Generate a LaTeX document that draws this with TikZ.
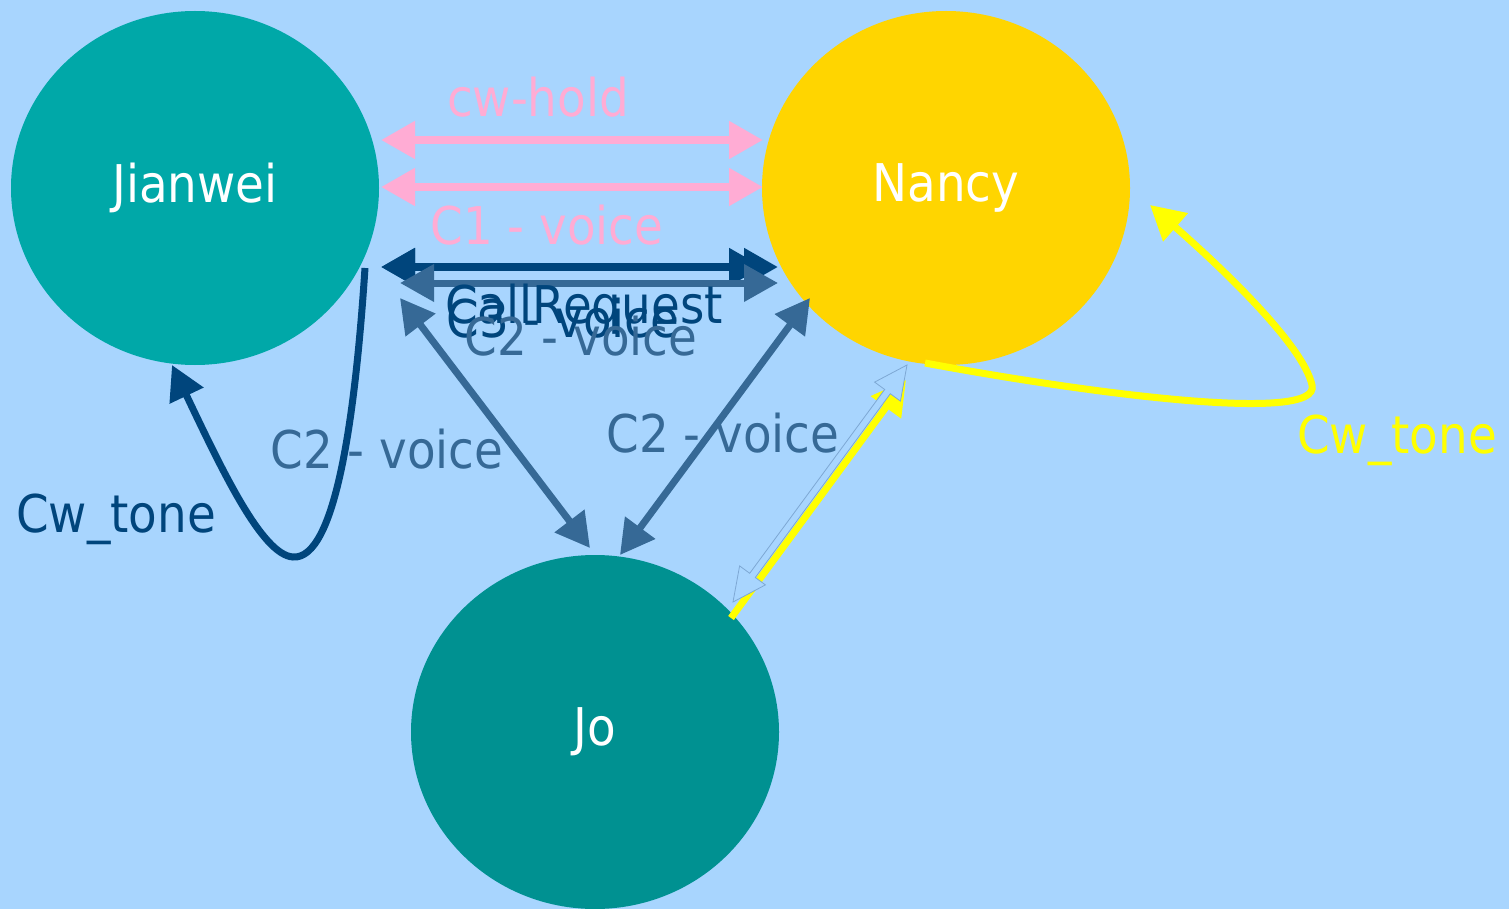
\documentclass[tikz,border=0pt]{standalone}
\usepackage{fontspec}
\setmainfont{DejaVu Sans}[FakeStretch=0.9]
\usetikzlibrary{arrows.meta,shapes.geometric}

\definecolor{bgc}{HTML}{A8D5FE}
\definecolor{jianc}{HTML}{00A8A8}
\definecolor{nancyc}{HTML}{FFD500}
\definecolor{joc}{HTML}{009191}
\definecolor{pinkc}{HTML}{FFACD4}
\definecolor{darkc}{HTML}{00457C}
\definecolor{steelc}{HTML}{366996}
\definecolor{yelc}{HTML}{FFFF00}
\definecolor{hollowc}{HTML}{7EA8D4}

\tikzset{
  person/.style={ellipse, minimum width=368pt, minimum height=354pt,
    inner sep=0pt, text=white},
  tipbig/.tip={Triangle[length=34pt,width=36pt]},
  pinkline/.style={draw=pinkc, line width=8pt, tipbig-tipbig},
  darkline/.style={draw=darkc, line width=8pt, tipbig-tipbig},
  steelline/.style={draw=steelc, line width=7pt, tipbig-tipbig},
  loopline/.style={line width=7pt, -tipbig},
  lbl/.style={anchor=base, inner sep=0pt}
}

\begin{document}
\begin{tikzpicture}[x=1pt, y=-1pt, font=\fontsize{52}{60}\selectfont]
\fill[bgc] (0,0) rectangle (1509,909);
\useasboundingbox (0,0) rectangle (1509,909);

% people
\node[person, fill=jianc]  (jian)  at (195,188) {Jianwei};
\node[person, fill=nancyc] (nancy) at (946,188) {Nancy};
\node[person, fill=joc]    (jo)    at (595,732) {Jo};

% end points on the borders
\coordinate (jA) at (381,140); \coordinate (nA) at (763,140);
\coordinate (jB) at (381,187); \coordinate (nB) at (763,187);
\coordinate (jC) at (381,267); \coordinate (nC) at (778,267);
\coordinate (nD) at (763,267);
\coordinate (jE) at (400,283); \coordinate (nE) at (778,283);
\coordinate (jF) at (400,298); \coordinate (oF) at (590,548);
\coordinate (nG) at (810,298); \coordinate (oG) at (620,555);
\coordinate (jL) at (365,268); \coordinate (jT) at (172,365);
\coordinate (nL) at (925,363); \coordinate (nT) at (1150,205);
\coordinate (oY) at (731,618); \coordinate (nY) at (906,380);

% Jianwei <-> Nancy
\draw[pinkline] (jA) -- (nA);
\draw[pinkline] (jB) -- (nB);
\draw[darkline] (jC) -- (nC);
\draw[darkline] (jC) -- (nD);
\draw[steelline] (jE) -- (nE);

% to and from Jo
\draw[steelline] (jF) -- (oF);
\draw[steelline] (nG) -- (oG);

% Cw_tone loops
\draw[loopline, darkc] (jL) .. controls (355,420) and (335,560) .. (293,557)
  .. controls (262,555) and (222,470) .. (jT);
\draw[loopline, yelc] (nL) .. controls (1080,392) and (1322,425) .. (1312,385)
  .. controls (1303,345) and (1222,268) .. (nT);

% Jo -> Nancy
\draw[loopline, yelc] (oY) -- (nY);
\filldraw[fill=bgc, draw=hollowc, line width=0.8pt, line join=miter]
  (733,602) -- (765.4,584.9) -- (755.3,577.5) -- (890.3,393.7)
  -- (900.4,401.1) -- (907,365) -- (874.6,382.1) -- (884.7,389.5)
  -- (749.7,573.3) -- (739.6,565.9) -- cycle;

% labels
\node[lbl, text=pinkc]  (l1) at (538,117) {cw-hold};
\node[lbl, text=pinkc]  (l2) at (547,245) {C1 - voice};
\node[lbl, text=darkc]  (l3) at (584,323) {CallRequest};
\node[lbl, text=darkc]  (l4) at (563,337) {C3 - voice};
\node[lbl, text=steelc] (l5) at (581,355) {C2 - voice};
\node[lbl, text=steelc] (l6) at (387,468) {C2 - voice};
\node[lbl, text=steelc] (l7) at (723,452) {C2 - voice};
\node[lbl, text=darkc]  (l8) at (116,532) {Cw\_tone};
\node[lbl, text=yelc]   (l9) at (1397,453) {Cw\_tone};
\end{tikzpicture}
\end{document}
